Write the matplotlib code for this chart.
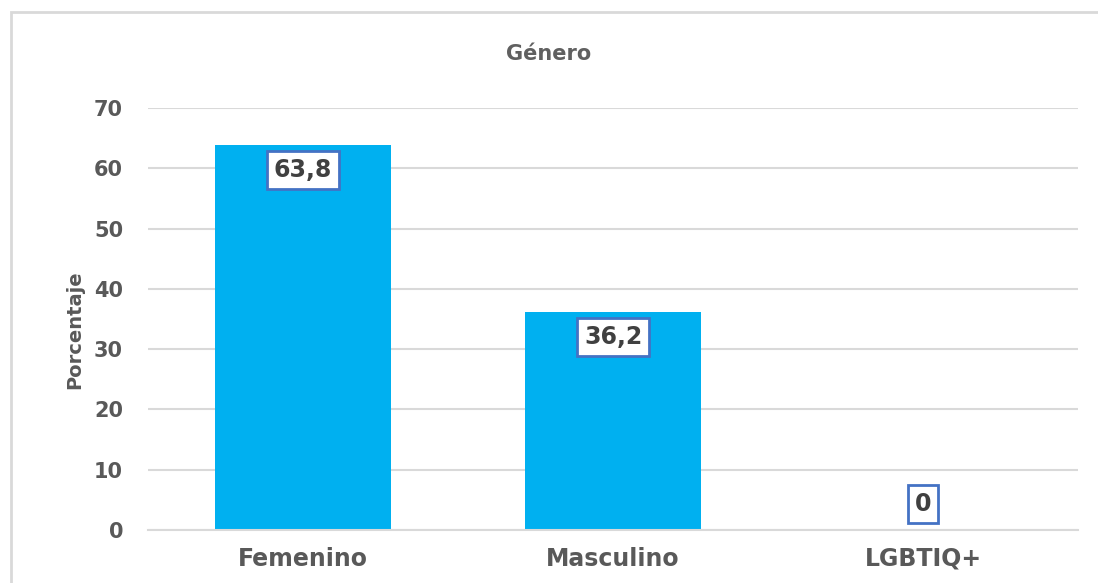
import matplotlib
matplotlib.use("Agg")
import matplotlib.pyplot as plt
from matplotlib.patches import Rectangle

categories = ["Femenino", "Masculino", "LGBTIQ+"]
values = [63.8, 36.2, 0]
labels = ["63,8", "36,2", "0"]
yticks = [0, 10, 20, 30, 40, 50, 60, 70]

plt.rcParams['font.family'] = ['DejaVu Sans']

W, H = 1098, 583
fig = plt.figure(figsize=(W/100, H/100), dpi=100)
fig.patch.set_facecolor('white')

# outer chart border
fig.patches.append(Rectangle((11/W, -0.2), 1.2, 1 - 12/H + 0.2, transform=fig.transFigure,
                             fill=False, edgecolor='#d9d9d9', linewidth=2, zorder=0))

ax = fig.add_axes([148/W, 1 - 530/H, (1078-148)/W, (530-108)/H])
x = list(range(len(categories)))
ax.bar(x, values, width=0.565, color='#00b0f0', zorder=2)
ax.set_xlim(-0.5, 2.5)
ax.set_ylim(0, 70)
ax.set_yticks(yticks)
ax.set_yticklabels([str(t) for t in yticks])
ax.set_xticks(x)
ax.set_xticklabels(categories)
ax.yaxis.grid(True, color='#d9d9d9', linewidth=1.5, zorder=0)
ax.set_axisbelow(True)
for s in ['top', 'right', 'left']:
    ax.spines[s].set_visible(False)
ax.spines['bottom'].set_color('#d9d9d9')
ax.spines['bottom'].set_linewidth(1.5)
ax.tick_params(axis='y', length=0, labelsize=15, labelcolor='#595959', pad=18)
ax.tick_params(axis='x', length=0, labelsize=17, labelcolor='#595959', pad=12)
for lbl in ax.get_xticklabels() + ax.get_yticklabels():
    lbl.set_fontweight('bold')
ax.set_ylabel('Porcentaje', fontsize=14, fontweight='bold', color='#595959')
ax.yaxis.set_label_coords(84/W, 1 - 330/H, transform=fig.transFigure)

fig.text(0.5, 1 - 54/H, 'Género', ha='center', va='center',
         fontsize=15, fontweight='bold', color='#606060')

for xi, v, lab in zip(x, values, labels):
    off = -25 if v > 5 else 26
    ax.annotate(lab, (xi, v), xytext=(0, off), textcoords='offset pixels',
                ha='center', va='center', fontsize=17, fontweight='bold', color='#404040',
                bbox=dict(boxstyle='square,pad=0.3', facecolor='white',
                          edgecolor='#4472c4', linewidth=2), zorder=3)

fig.savefig('out.png', dpi=100, facecolor='white')
